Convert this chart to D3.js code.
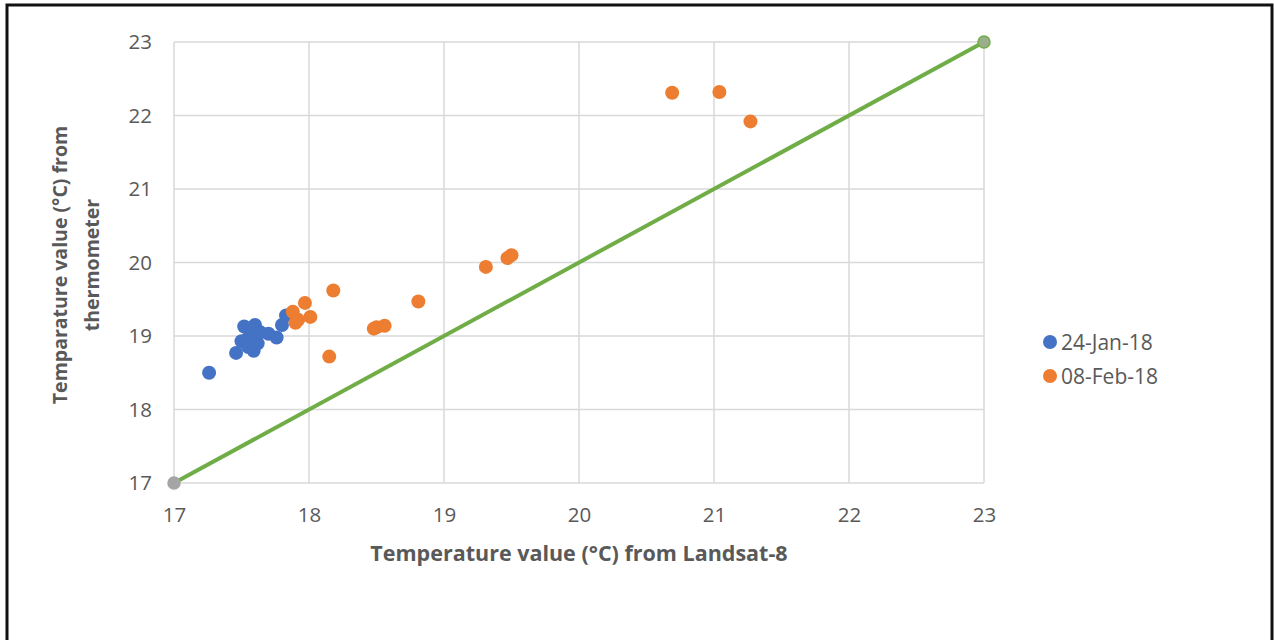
<!DOCTYPE html>
<html>
<head>
<meta charset="utf-8">
<script src="https://cdn.jsdelivr.net/npm/d3@7/dist/d3.min.js"></script>
<style>
  html, body { margin: 0; padding: 0; background: #fff; }
  svg { display: block; }
</style>
</head>
<body>
<svg id="chart" width="1274" height="640"></svg>
<script>
// Satellite (Landsat-8) vs thermometer temperatures, two acquisition dates
const janLandsat = [17.26, 17.46, 17.50, 17.52, 17.55, 17.55, 17.57, 17.59, 17.60, 17.62, 17.64, 17.70, 17.76, 17.80, 17.83];
const janThermo  = [18.50, 18.77, 18.93, 19.13, 18.85, 18.97, 19.00, 18.80, 19.15, 18.90, 19.05, 19.03, 18.98, 19.15, 19.28];

const febLandsat = [17.88, 17.90, 17.92, 17.97, 18.01, 18.15, 18.18, 18.48, 18.50, 18.56, 18.81, 19.31, 19.47, 19.50, 20.69, 21.04, 21.27];
const febThermo  = [19.33, 19.18, 19.22, 19.45, 19.26, 18.72, 19.62, 19.10, 19.12, 19.14, 19.47, 19.94, 20.06, 20.10, 22.31, 22.32, 21.92];

const lineX = [17, 23];
const lineY = [17, 23];

const xTicks = [17, 18, 19, 20, 21, 22, 23];
const yTicks = [17, 18, 19, 20, 21, 22, 23];

const seriesNames = ["24-Jan-18", "08-Feb-18"];
const seriesColors = ["#4472C4", "#ED7D31"];

const font = "'Open Sans', 'Noto Sans', sans-serif";
const svg = d3.select("#chart");

// outer frame
svg.append("rect").attr("x", 7).attr("y", 5).attr("width", 1265).attr("height", 660)
  .attr("fill", "none").attr("stroke", "#111").attr("stroke-width", 3);

const x = d3.scaleLinear().domain([17, 23]).range([174, 984]);
const y = d3.scaleLinear().domain([17, 23]).range([483, 42]);

// gridlines
const grid = svg.append("g");
grid.selectAll("line.v").data(xTicks).join("line")
  .attr("x1", d => x(d)).attr("x2", d => x(d)).attr("y1", y(23)).attr("y2", y(17))
  .attr("stroke", "#d9d9d9").attr("stroke-width", 1.5);
grid.selectAll("line.h").data(yTicks).join("line")
  .attr("x1", x(17)).attr("x2", x(23)).attr("y1", d => y(d)).attr("y2", d => y(d))
  .attr("stroke", "#d9d9d9").attr("stroke-width", 1.5);

// axes (labels only)
const xAxis = svg.append("g").attr("transform", `translate(0,${y(17)})`)
  .call(d3.axisBottom(x).tickValues(xTicks).tickFormat(d3.format("d")).tickSize(0).tickPadding(24));
const yAxis = svg.append("g").attr("transform", `translate(${x(17)},0)`)
  .call(d3.axisLeft(y).tickValues(yTicks).tickFormat(d3.format("d")).tickSize(0).tickPadding(22));
[xAxis, yAxis].forEach(a => {
  a.select(".domain").remove();
  a.selectAll("text").attr("font-family", font).attr("font-size", 20.5).attr("fill", "#595959");
});

// 1:1 reference line
svg.append("path")
  .datum(lineX.map((v, i) => [v, lineY[i]]))
  .attr("d", d3.line().x(d => x(d[0])).y(d => y(d[1])))
  .attr("stroke", "#70AD47").attr("stroke-width", 4).attr("fill", "none");
svg.selectAll("circle.ref").data(lineX.map((v, i) => [v, lineY[i]])).join("circle")
  .attr("cx", d => x(d[0])).attr("cy", d => y(d[1])).attr("r", 6)
  .attr("fill", (d, i) => i === 0 ? "#A5A5A5" : "#9aae8c")
  .attr("stroke", (d, i) => i === 0 ? "#A5A5A5" : "#70AD47").attr("stroke-width", 1.5);

// scatter points
const janPts = janLandsat.map((v, i) => [v, janThermo[i]]);
const febPts = febLandsat.map((v, i) => [v, febThermo[i]]);
[[janPts, seriesColors[0]], [febPts, seriesColors[1]]].forEach(([pts, c]) => {
  svg.append("g").selectAll("circle").data(pts).join("circle")
    .attr("cx", d => x(d[0])).attr("cy", d => y(d[1])).attr("r", 7)
    .attr("fill", c);
});

// axis titles
svg.append("text").attr("x", 579).attr("y", 561).attr("text-anchor", "middle")
  .attr("font-family", font).attr("font-size", 21.5).attr("font-weight", "bold").attr("fill", "#595959")
  .text("Temperature value (°C) from Landsat-8");
const yt = svg.append("text").attr("transform", "translate(0,265) rotate(-90)")
  .attr("text-anchor", "middle").attr("font-family", font).attr("font-size", 19.5)
  .attr("font-weight", "bold").attr("fill", "#595959");
yt.append("tspan").attr("x", 0).attr("y", 67).text("Temparature value (°C) from");
yt.append("tspan").attr("x", 0).attr("y", 99).text("thermometer");

// legend
const leg = svg.append("g");
seriesNames.forEach((n, i) => {
  const ly = 342 + i * 34;
  leg.append("circle").attr("cx", 1050).attr("cy", ly).attr("r", 7).attr("fill", seriesColors[i]);
  leg.append("text").attr("x", 1061).attr("y", ly + 7.5).attr("font-family", font)
    .attr("font-size", 21).attr("fill", "#595959").text(n);
});
</script>
</body>
</html>
